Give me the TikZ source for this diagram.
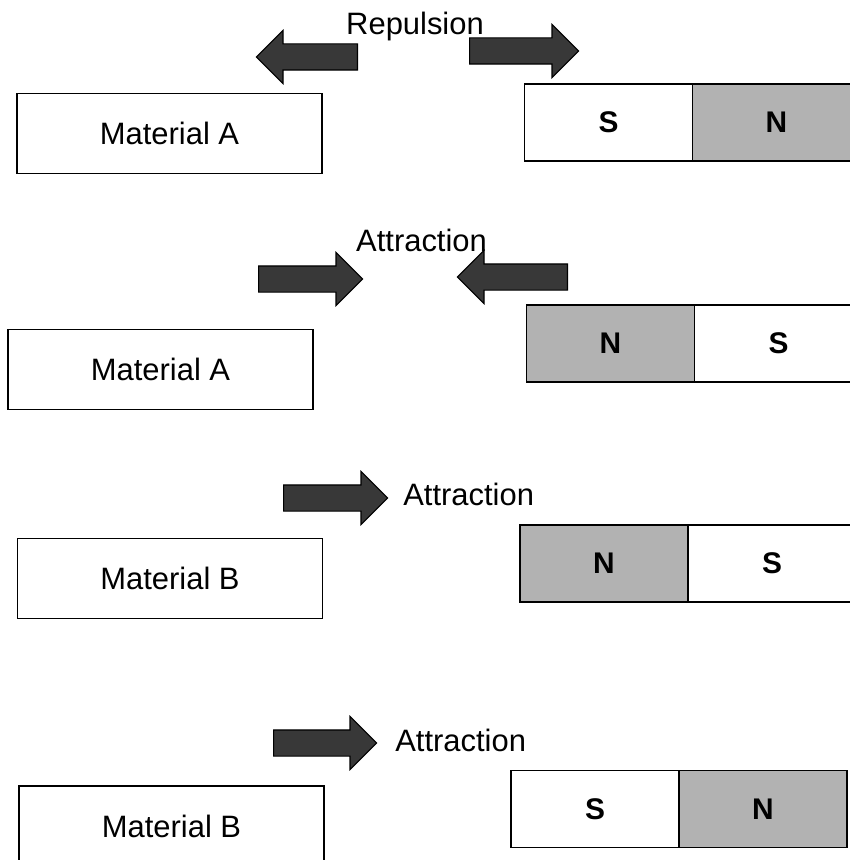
\documentclass[tikz,border=0pt]{standalone}
\usepackage{fontspec}
\setmainfont{Liberation Sans}
\usetikzlibrary{positioning,shapes.arrows}

\begin{document}
\begin{tikzpicture}[x=0.2mm,y=-0.2mm,
  font=\fontsize{17.6}{20}\selectfont,
  box/.style={draw,line width=0.8pt,minimum width=61mm,minimum height=16mm,inner sep=0},
  pole/.style={draw,line width=0.8pt,outer sep=0,minimum width=33.6mm,minimum height=15.4mm,inner sep=0,font=\fontsize{17}{19}\selectfont\bfseries},
  npole/.style={pole,fill=black!30},
  push/.style={single arrow,draw=black,fill=black!78,line width=0.6pt,inner xsep=0,inner ysep=2.5mm,single arrow head extend=2.7mm}]

\useasboundingbox (0,0) rectangle (850,860);
\clip (0,0) rectangle (850,860);

\node[box] (a1) at (169.5,133.5) {Material A};
\node[pole] (s1) at (608.5,122.5) {S};
\node[npole,right=0pt of s1] (n1) {N};
\node[push,minimum height=20.2mm,shape border rotate=180,anchor=tail] (l1) at (358,57) {};
\node[push,minimum height=21.8mm,anchor=tail] (r1) at (469,51) {};
\node[anchor=base] (t1) at (415,35) {Repulsion};

\node[box] (a2) at (160.5,369.5) {Material A};
\node[npole] (n2) at (610.5,343.5) {N};
\node[pole,right=0pt of n2] (s2) {S};
\node[push,minimum height=20.8mm,anchor=tail] (r2) at (258,279) {};
\node[push,minimum height=22mm,shape border rotate=180,anchor=tail] (l2) at (568,277) {};
\node[anchor=base] (t2) at (421.5,251) {Attraction};

\node[box] (b3) at (170,578.5) {Material B};
\node[npole] (n3) at (604,563.5) {N};
\node[pole,right=0pt of n3] (s3) {S};
\node[push,minimum height=20.8mm,anchor=tail] (r3) at (283,498) {};
\node[anchor=base west,inner sep=0] (t3) at (403,505) {Attraction};

\node[box] (b4) at (171.5,826) {Material B};
\node[pole] (s4) at (595,809) {S};
\node[npole,right=0pt of s4] (n4) {N};
\node[push,minimum height=20.6mm,anchor=tail] (r4) at (273,743) {};
\node[anchor=base west,inner sep=0] (t4) at (395,751) {Attraction};
\end{tikzpicture}
\end{document}
